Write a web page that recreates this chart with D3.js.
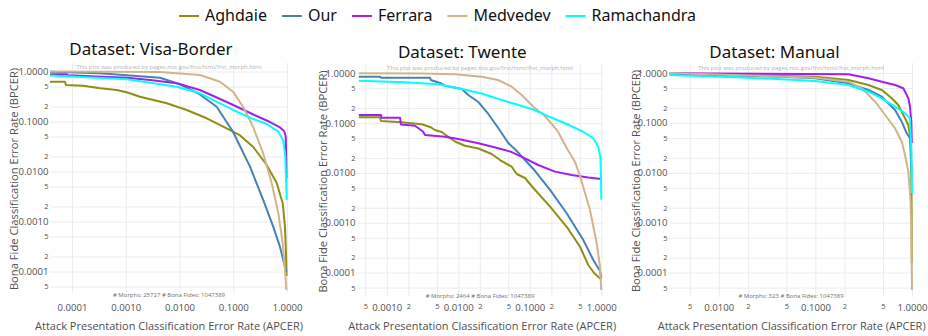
<!DOCTYPE html>
<html>
<head>
<meta charset="utf-8">
<script src="https://cdn.jsdelivr.net/npm/d3@7"></script>
<style>
  body { margin: 0; background: #fff; }
  svg { display: block; }
</style>
</head>
<body>
<svg id="chart" width="928" height="336"></svg>
<script>
// ---- Series ----
const seriesNames = ["Aghdaie", "Our", "Ferrara", "Medvedev", "Ramachandra"];
const seriesColors = ["#8f8f14", "#4682b4", "#a020f0", "#d2b48c", "#00ffff"];

// ---- DET curves: [APCER, BPCER] ----
// Visa-Border
const visaAghdaie = [[3.9e-5,0.625],[7.4e-5,0.625],[7.7e-5,0.537],[1.62e-4,0.52],[3.32e-4,0.461],[6.8e-4,0.426],[1.04e-3,0.384],[1.84e-3,0.313],[5.8e-3,0.231],[0.0136,0.17],[0.0321,0.116],[0.0755,0.0731],[0.134,0.0525],[0.236,0.0309],[0.419,0.0135],[0.643,0.00588],[0.832,0.00232],[0.918,0.00078],[0.958,0.00023],[0.979,0.000081]];
const visaOur = [[3.9e-5,0.99],[3.32e-4,0.92],[4.34e-3,0.75],[0.0102,0.555],[0.024,0.347],[0.0492,0.197],[0.0989,0.0625],[0.205,0.0125],[0.362,0.00269],[0.556,0.00078],[0.741,0.00031],[0.918,0.000124],[0.97,0.000099]];
const visaFerrara = [[3.9e-5,0.879],[8.0e-5,0.879],[8.4e-5,0.839],[1.04e-3,0.751],[2.83e-3,0.676],[8.87e-3,0.581],[0.024,0.426],[0.0492,0.302],[0.1,0.214],[0.236,0.138],[0.483,0.0977],[0.741,0.0759],[0.88,0.0646],[0.946,0.0513],[0.97,0.0169],[0.979,0.0073]];
const visaMedvedev = [[3.9e-5,1.0],[4.34e-3,0.977],[0.024,0.851],[0.0567,0.625],[0.0989,0.395],[0.152,0.197],[0.233,0.0788],[0.358,0.0235],[0.519,0.0059],[0.689,0.00147],[0.832,0.00037],[0.918,0.000107],[0.97,0.000043]];
const visaRamachandra = [[3.9e-5,0.832],[1.04e-3,0.698],[8.87e-3,0.497],[0.024,0.366],[0.1,0.17],[0.236,0.112],[0.419,0.089],[0.689,0.0625],[0.853,0.0417],[0.93,0.0198],[0.958,0.0079],[0.987,0.0027]];

// Twente
const twenteAghdaie = [[4.06e-4,0.13],[8.0e-4,0.13],[8.3e-4,0.11],[1.62e-3,0.1035],[3.08e-3,0.0944],[4.02e-3,0.0834],[4.72e-3,0.0726],[5.86e-3,0.0661],[7.25e-3,0.0532],[8.99e-3,0.0427],[0.0124,0.0351],[0.0191,0.0309],[0.0293,0.0239],[0.0383,0.0181],[0.0558,0.0133],[0.0656,0.0095],[0.0857,0.0079],[0.112,0.00498],[0.192,0.0021],[0.328,0.00083],[0.504,0.00033],[0.658,0.000142],[0.791,0.000098],[1.0,0.000073]];
const twenteOur = [[4.06e-4,0.851],[8.0e-4,0.851],[8.3e-4,0.812],[4.02e-3,0.812],[4.13e-3,0.731],[5.55e-3,0.636],[6.52e-3,0.561],[0.0112,0.482],[0.0138,0.365],[0.0191,0.264],[0.0263,0.152],[0.0362,0.0796],[0.05,0.0398],[0.0656,0.0275],[0.112,0.012],[0.192,0.00455],[0.328,0.00155],[0.56,0.00045],[0.773,0.000179],[0.959,0.000108],[1.0,0.000078]];
const twenteFerrara = [[4.06e-4,0.145],[8.3e-4,0.145],[8.43e-4,0.128],[1.53e-3,0.128],[1.58e-3,0.0935],[2.48e-3,0.0885],[3.21e-3,0.0676],[3.42e-3,0.0576],[6.52e-3,0.0532],[0.01,0.0479],[0.0191,0.0393],[0.0362,0.0311],[0.0558,0.0262],[0.0857,0.0196],[0.131,0.0144],[0.225,0.0106],[0.385,0.0091],[0.658,0.0081],[1.0,0.00755]];
const twenteMedvedev = [[4.06e-4,1.0],[3.08e-3,0.99],[8.99e-3,0.95],[0.0212,0.851],[0.0359,0.731],[0.0558,0.536],[0.077,0.365],[0.112,0.213],[0.163,0.138],[0.192,0.105],[0.248,0.067],[0.328,0.0316],[0.429,0.0166],[0.504,0.00867],[0.695,0.0018],[0.863,0.000387],[0.959,0.000131],[1.0,0.0000448]];
const twenteRamachandra = [[4.06e-4,0.707],[1.8e-3,0.657],[5.2e-3,0.599],[0.0112,0.482],[0.0212,0.392],[0.0383,0.297],[0.112,0.187],[0.192,0.132],[0.328,0.0957],[0.56,0.067],[0.773,0.0494],[0.908,0.0336],[0.974,0.0199],[0.99,0.0091],[1.0,0.00288]];

// Manual
const manualAghdaie = [[3.1e-3,0.986],[0.1,0.843],[0.22,0.724],[0.354,0.575],[0.487,0.456],[0.618,0.311],[0.722,0.228],[0.847,0.124],[0.916,0.0908],[0.976,0.042],[0.988,0.00285],[0.995,0.000156]];
const manualOur = [[3.1e-3,0.942],[0.0454,0.843],[0.1,0.783],[0.22,0.622],[0.354,0.456],[0.487,0.335],[0.668,0.181],[0.783,0.106],[0.882,0.0619],[0.954,0.0491],[0.988,0.0099]];
const manualFerrara = [[3.1e-3,0.99],[0.22,0.942],[0.354,0.783],[0.487,0.669],[0.668,0.575],[0.813,0.494],[0.916,0.311],[0.954,0.211],[0.983,0.106],[0.995,0.0396]];
const manualMedvedev = [[3.1e-3,1.0],[0.1,0.805],[0.22,0.669],[0.303,0.494],[0.416,0.266],[0.527,0.144],[0.668,0.078],[0.783,0.042],[0.847,0.0227],[0.916,0.0105],[0.965,0.00285],[0.988,0.00045],[1.0,0.0000448]];
const manualRamachandra = [[3.1e-3,0.912],[0.0205,0.805],[0.1,0.691],[0.22,0.575],[0.354,0.422],[0.487,0.311],[0.668,0.211],[0.847,0.156],[0.954,0.124],[0.983,0.0286],[1.0,0.00394]];

// ---- Sample sizes ----
const datasetTitles = ["Dataset: Visa-Border", "Dataset: Twente", "Dataset: Manual"];
const morphCounts = [25727, 2464, 323];
const bonaFideCount = 1047389;

// ---- Ticks ----
const yTicks = [1, 0.5, 0.2, 0.1, 0.05, 0.02, 0.01, 0.005, 0.002, 0.001, 5e-4, 2e-4, 1e-4, 5e-5];
const yTickLabels = ["1.0000","5","2","0.1000","5","2","0.0100","5","2","0.0010","5","2","0.0001","5"];
const visaXTicks = [1e-4, 1e-3, 1e-2, 0.1, 1];
const visaXLabels = ["0.0001","0.0010","0.0100","0.1000","1.0000"];
const twenteXTicks = [5e-4, 1e-3, 2e-3, 5e-3, 0.01, 0.02, 0.05, 0.1, 0.2, 0.5, 1];
const twenteXLabels = ["5","0.0010","2","5","0.0100","2","5","0.1000","2","5","1.0000"];
const manualXTicks = [5e-3, 0.01, 0.02, 0.05, 0.1, 0.2, 0.5, 1];
const manualXLabels = ["5","0.0100","2","5","0.1000","2","5","1.0000"];

const panelSeries = [
  [visaAghdaie, visaOur, visaFerrara, visaMedvedev, visaRamachandra],
  [twenteAghdaie, twenteOur, twenteFerrara, twenteMedvedev, twenteRamachandra],
  [manualAghdaie, manualOur, manualFerrara, manualMedvedev, manualRamachandra]
];
const panelXTicks = [visaXTicks, twenteXTicks, manualXTicks];
const panelXLabels = [visaXLabels, twenteXLabels, manualXLabels];

// ---- Layout of the three plot areas (pixels) ----
// x1/y1: pixel of the value 1.0 on each axis, xDec/yDec: pixels per decade
const layouts = [
  { left: 50,  right: 288, top: 63, bottom: 293, x1: 287,   xDec: 53.75, y1: 71.5, yDec: 50,
    titleX: 151,   titleY: 55, yTitleX: 14,    yTitleY: 179,   xTitleX: 169,   noteY: 68.8, footY: 297 },
  { left: 357, right: 603, top: 63, bottom: 297, x1: 601.3, xDec: 71.5,  y1: 73.2, yDec: 49.85,
    titleX: 462.3, titleY: 58, yTitleX: 323,   yTitleY: 181.5, xTitleX: 482.2, noteY: 70.4, footY: 298 },
  { left: 669, right: 913, top: 63, bottom: 297, x1: 912,   xDec: 96.6,  y1: 73,   yDec: 49.9,
    titleX: 774.5, titleY: 58, yTitleX: 635.7, yTitleY: 181,   xTitleX: 791.7, noteY: 70.4, footY: 298 }
];

const tickFont = "'Open Sans', 'DejaVu Sans', sans-serif";
const headFont = "'Noto Sans', 'Open Sans', sans-serif";
const svg = d3.select("#chart");

layouts.forEach((L, p) => {
  const xScale = d3.scaleLog()
    .domain([Math.pow(10, (L.left - L.x1) / L.xDec), Math.pow(10, (L.right - L.x1) / L.xDec)])
    .range([L.left, L.right]);
  const yScale = d3.scaleLog()
    .domain([Math.pow(10, (L.y1 - L.top) / L.yDec), Math.pow(10, (L.y1 - L.bottom) / L.yDec)])
    .range([L.top, L.bottom]);

  const g = svg.append("g");
  const xTicks = panelXTicks[p];
  const xLabels = panelXLabels[p];

  // grid
  g.append("g")
    .attr("transform", `translate(0,${L.bottom})`)
    .call(d3.axisBottom(xScale).tickValues(xTicks).tickSize(-(L.bottom - L.top)).tickFormat(""))
    .call(a => a.select(".domain").remove())
    .call(a => a.selectAll("line").attr("stroke", "#ececec").attr("stroke-width", 1));
  g.append("g")
    .attr("transform", `translate(${L.left},0)`)
    .call(d3.axisLeft(yScale).tickValues(yTicks).tickSize(-(L.right - L.left)).tickFormat(""))
    .call(a => a.select(".domain").remove())
    .call(a => a.selectAll("line").attr("stroke", "#ececec").attr("stroke-width", 1));

  // tick labels
  const isMinor = s => s.length === 1;
  g.append("g")
    .attr("transform", `translate(${L.left - 1.5},0)`)
    .call(d3.axisLeft(yScale).tickValues(yTicks).tickSize(0).tickPadding(0)
      .tickFormat((d, i) => yTickLabels[i]))
    .call(a => a.select(".domain").remove())
    .call(a => a.selectAll("text")
      .attr("font-family", tickFont)
      .attr("fill", "#505050")
      .attr("font-size", (d, i) => isMinor(yTickLabels[i]) ? 7.5 : 9.6));
  g.append("g")
    .attr("transform", `translate(0,304)`)
    .call(d3.axisBottom(xScale).tickValues(xTicks).tickSize(0).tickPadding(0)
      .tickFormat((d, i) => xLabels[i]))
    .call(a => a.select(".domain").remove())
    .call(a => a.selectAll("text")
      .attr("font-family", tickFont)
      .attr("fill", "#505050")
      .attr("font-size", (d, i) => isMinor(xLabels[i]) ? 7.5 : 9.6));

  // curves
  const clipId = `plot-clip-${p}`;
  svg.append("clipPath").attr("id", clipId)
    .append("rect")
    .attr("x", L.left).attr("y", L.top - 2)
    .attr("width", L.right - L.left + 2).attr("height", L.bottom - L.top + 2);
  const line = d3.line().x(d => xScale(d[0])).y(d => yScale(d[1]));
  g.append("g").attr("clip-path", `url(#${clipId})`)
    .selectAll("path")
    .data(panelSeries[p])
    .join("path")
    .attr("d", line)
    .attr("fill", "none")
    .attr("stroke", (d, i) => seriesColors[i])
    .attr("stroke-width", 2)
    .attr("stroke-linejoin", "round");

  // notes
  const cx = (L.left + L.right) / 2;
  g.append("text")
    .attr("x", cx).attr("y", L.noteY)
    .attr("text-anchor", "middle")
    .attr("font-family", tickFont).attr("font-size", 5.9)
    .attr("fill", "#b4b4b4")
    .text("This plot was produced by pages.nist.gov/frvt/html/frvt_morph.html");
  g.append("text")
    .attr("x", cx).attr("y", L.footY)
    .attr("text-anchor", "middle")
    .attr("font-family", tickFont).attr("font-size", 6)
    .attr("fill", "#707070")
    .text(`# Morphs: ${morphCounts[p]} # Bona Fides: ${bonaFideCount}`);

  // titles
  g.append("text")
    .attr("x", L.titleX).attr("y", L.titleY)
    .attr("text-anchor", "middle")
    .attr("font-family", headFont).attr("font-size", 17)
    .attr("fill", "#111")
    .text(datasetTitles[p]);
  g.append("text")
    .attr("x", L.xTitleX).attr("y", 329.5)
    .attr("text-anchor", "middle")
    .attr("font-family", tickFont).attr("font-size", 11)
    .attr("fill", "#505050")
    .text("Attack Presentation Classification Error Rate (APCER)");
  g.append("text")
    .attr("transform", `translate(${L.yTitleX},${L.yTitleY}) rotate(-90)`)
    .attr("text-anchor", "middle")
    .attr("dy", "0.35em")
    .attr("font-family", tickFont).attr("font-size", 11.2)
    .attr("fill", "#505050")
    .text("Bona Fide Classification Error Rate (BPCER)");
});

// legend
const legend = svg.append("g");
let cursor = 0;
seriesNames.forEach((name, i) => {
  const item = legend.append("g").attr("transform", `translate(${cursor},0)`);
  item.append("line")
    .attr("x1", 0).attr("x2", 20).attr("y1", 16).attr("y2", 16)
    .attr("stroke", seriesColors[i]).attr("stroke-width", 2);
  const t = item.append("text")
    .attr("x", 26).attr("y", 21)
    .attr("font-family", headFont).attr("font-size", 16)
    .attr("fill", "#111")
    .text(name);
  cursor += 26 + t.node().getComputedTextLength() + 15;
});
const legendWidth = cursor - 15;
legend.attr("transform", `translate(${437.5 - legendWidth / 2},0)`);
</script>
</body>
</html>
